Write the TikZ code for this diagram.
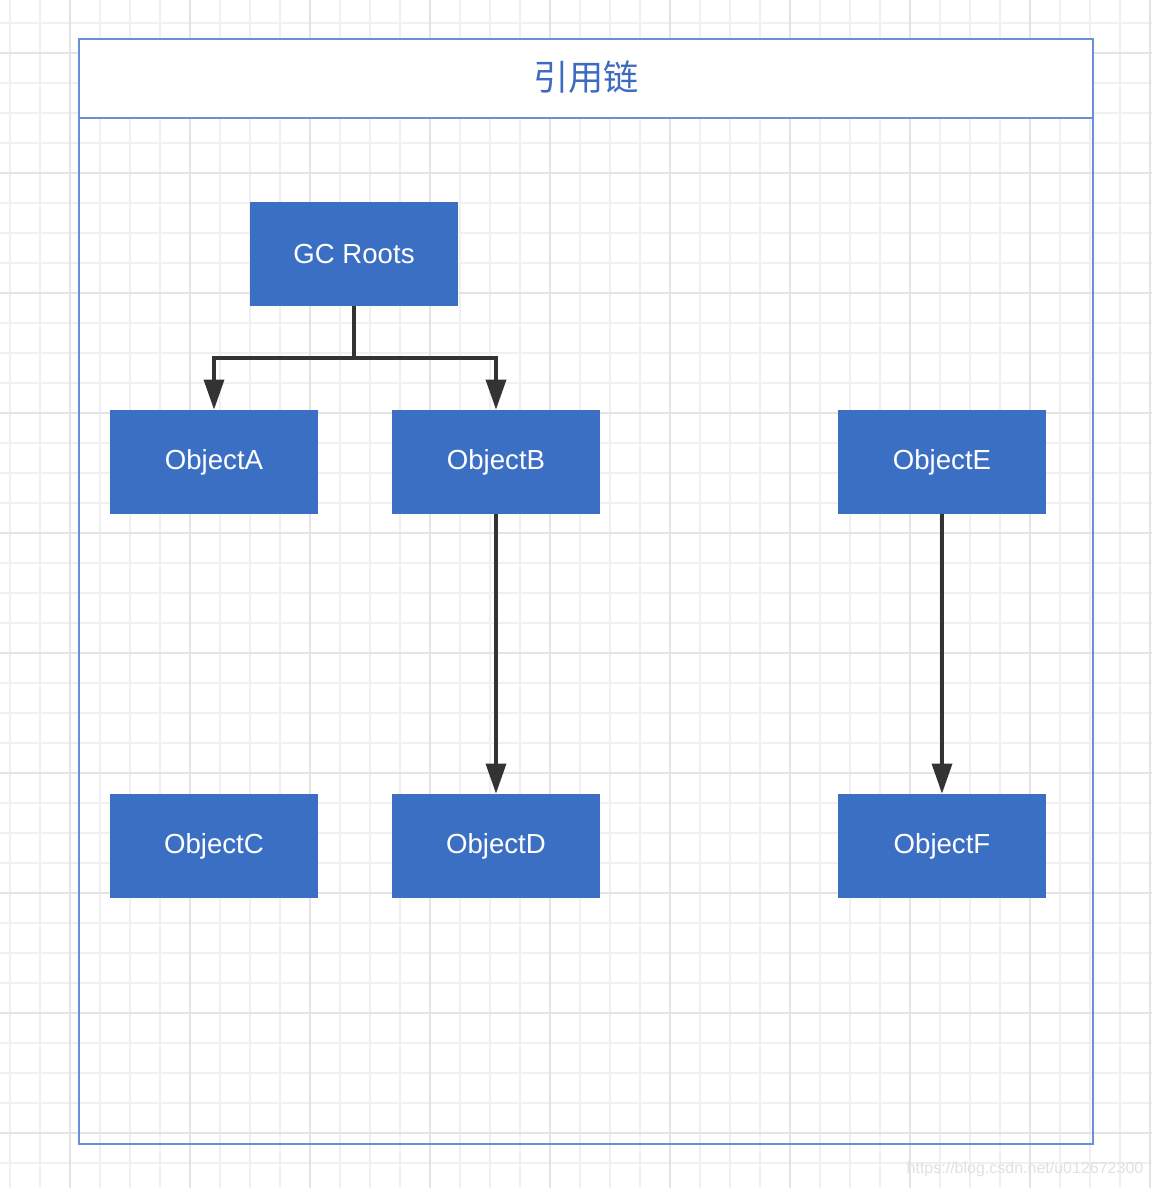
\documentclass[tikz,border=0pt]{standalone}
\usepackage{fontspec}
\setmainfont{Liberation Sans}
\newfontfamily\cjk{Noto Sans CJK SC}
\usetikzlibrary{arrows.meta}
\definecolor{boxblue}{HTML}{3B6FC4}
\definecolor{frameblue}{HTML}{6A8ED8}
\definecolor{titleblue}{HTML}{3D6BC0}
\definecolor{gridminor}{HTML}{F0F0F0}
\definecolor{gridmajor}{HTML}{E4E4E4}
\definecolor{arrowgray}{HTML}{333333}
\begin{document}
\begin{tikzpicture}[x=0.5pt, y=-0.5pt]
	\tikzstyle{object}=[rectangle, fill=boxblue, text=white, minimum width=104pt, minimum height=52pt, font=\fontsize{13.8}{16}\selectfont]
	\tikzstyle{ref}=[draw=arrowgray, line width=1.7pt, -{Triangle[width=10pt, length=15pt]}]
	\useasboundingbox (0,0) rectangle (1152,1188);
	% Grid
	\foreach \x in {0,...,38}
		\draw[gridminor, line width=0.8pt] (10+\x*30, 0) -- (10+\x*30, 1188);
	\foreach \y in {0,...,38}
		\draw[gridminor, line width=0.8pt] (0, 23+\y*30) -- (1152, 23+\y*30);
	\foreach \x in {0,...,9}
		\draw[gridmajor, line width=1pt] (70+\x*120, 0) -- (70+\x*120, 1188);
	\foreach \y in {0,...,9}
		\draw[gridmajor, line width=1pt] (0, 53+\y*120) -- (1152, 53+\y*120);
	% Frame
	\draw[frameblue, line width=1pt] (79,39) rectangle (1093,1144);
	\draw[frameblue, line width=1pt, fill=white] (79,39) rectangle (1093,118);
	\node at (586,77) (title) {\cjk\fontsize{17.6}{20}\selectfont\color{titleblue}引用链};
	% Roots
	\node at (354,254) [object] (roots) {GC Roots};
	% Objects
	\foreach \n/\x/\y in {A/214/462, B/496/462, E/942/462, C/214/846, D/496/846, F/942/846}
		\node at (\x,\y) [object] (obj\n) {Object\n};
	%---------------------%
	% Roots -> A, B
	\coordinate (split) at (354,358);
	\draw [ref] (roots.south) -- (split) -| (objA.north);
	\draw [ref] (roots.south) -- (split) -| (objB.north);
	% B -> D, E -> F
	\draw [ref] (objB) -- (objD);
	\draw [ref] (objE) -- (objF);
	%---------------------%
	\node at (1025,1169) (mark) {\fontsize{8}{9}\selectfont\color{black!12}https://blog.csdn.net/u012672300};
\end{tikzpicture}
\end{document}
